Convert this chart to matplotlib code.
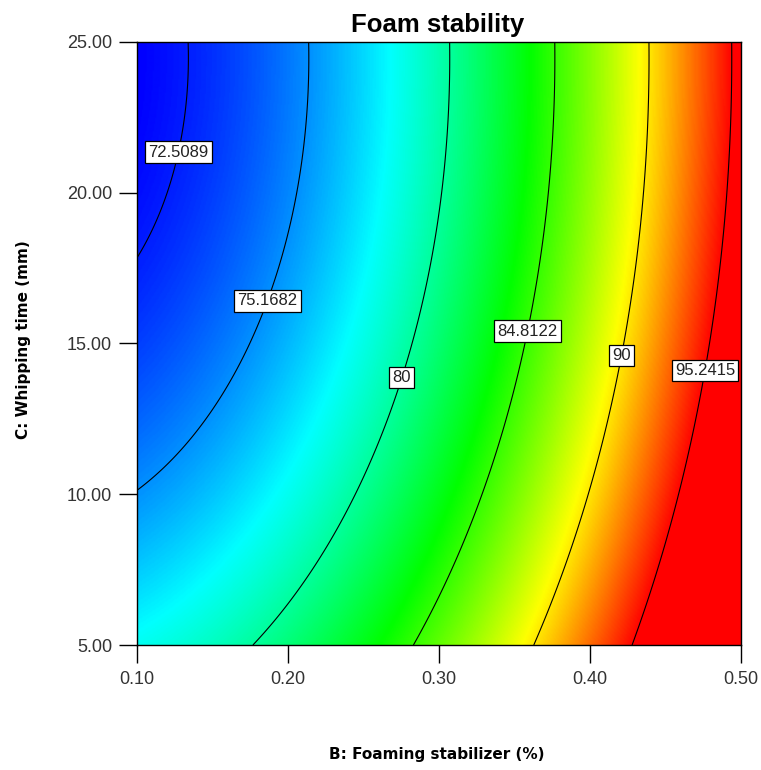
import numpy as np
import matplotlib
matplotlib.use("Agg")
import matplotlib.pyplot as plt
from matplotlib.colors import LinearSegmentedColormap

# quadratic response surface, coefficients read back from where the contours sit
# Y = k0 + kB*B + kC*C + kBB*B^2 + kCC*C^2
model_terms = ["const", "B", "C", "B^2", "C^2"]
model_coefs = [80.94, -3.7, -0.805, 106.5, 0.01645]

b_range = [0.10, 0.50]
c_range = [5.0, 25.0]

contour_levels = [72.5089, 75.1682, 80, 84.8122, 90, 95.2415]
level_text = ["72.5089", "75.1682", "80", "84.8122", "90", "95.2415"]

b_ticks = [0.10, 0.20, 0.30, 0.40, 0.50]
b_ticklabels = ["0.10", "0.20", "0.30", "0.40", "0.50"]
c_ticks = [5.0, 10.0, 15.0, 20.0, 25.0]
c_ticklabels = ["5.00", "10.00", "15.00", "20.00", "25.00"]

# where the boxed labels sit (data coords)
label_pos = [(0.127, 21.35), (0.185, 16.44), (0.274, 13.89),
             (0.358, 15.41), (0.4185, 14.62), (0.4748, 14.12)]

color_low, color_high = 71.8, 95.4
ramp = ["#0000ff", "#00ffff", "#00ff00", "#ffff00", "#ff0000"]

FONT = ["Liberation Sans", "DejaVu Sans"]

k = dict(zip(model_terms, model_coefs))
B = np.linspace(b_range[0], b_range[1], 500)
C = np.linspace(c_range[0], c_range[1], 500)
BB, CC = np.meshgrid(B, C)
Y = k["const"] + k["B"] * BB + k["C"] * CC + k["B^2"] * BB ** 2 + k["C^2"] * CC ** 2

cmap = LinearSegmentedColormap.from_list("dx", ramp)

fig = plt.figure(figsize=(7.61, 7.70), dpi=100)
ax = fig.add_axes([137 / 761, 1 - 645 / 770, (741 - 137) / 761, (645 - 42) / 770])

ax.imshow(Y, origin="lower", extent=[b_range[0], b_range[1], c_range[0], c_range[1]],
          aspect="auto", cmap=cmap, vmin=color_low, vmax=color_high, interpolation="bilinear")
cs = ax.contour(BB, CC, Y, levels=contour_levels, colors="black", linewidths=0.8)
lbls = ax.clabel(cs, fmt=dict(zip(contour_levels, level_text)), manual=label_pos,
                 inline=False, fontsize=12)
for t in lbls:
    t.set_rotation(0)
    t.set_fontfamily(FONT)
    t.set_color("#222222")
    t.set_bbox(dict(boxstyle="square,pad=0.2", fc="white", ec="black", lw=0.9))

ax.set_xlim(b_range)
ax.set_ylim(c_range)
ax.set_xticks(b_ticks)
ax.set_xticklabels(b_ticklabels, fontfamily=FONT, fontsize=13, color="#333333")
ax.set_yticks(c_ticks)
ax.set_yticklabels(c_ticklabels, fontfamily=FONT, fontsize=13, color="#333333")
ax.tick_params(direction="out", length=13, width=1)
ax.tick_params(axis="x", pad=6)
ax.tick_params(axis="y", pad=5)
for s in ax.spines.values():
    s.set_linewidth(1)

fig.text(438 / 761, 1 - 32 / 770, "Foam stability", ha="center", va="baseline",
         fontsize=18.5, fontweight="bold", fontfamily=FONT)
fig.text(437 / 761, 1 - 755 / 770, "B: Foaming stabilizer (%)", ha="center", va="center",
         fontsize=11, fontweight="bold", fontfamily="DejaVu Sans")
fig.text(24 / 761, 1 - 340 / 770, "C: Whipping time (mm)", ha="center", va="center",
         rotation=90, fontsize=11, fontweight="bold", fontfamily="DejaVu Sans")

fig.savefig("out.png", dpi=100)
